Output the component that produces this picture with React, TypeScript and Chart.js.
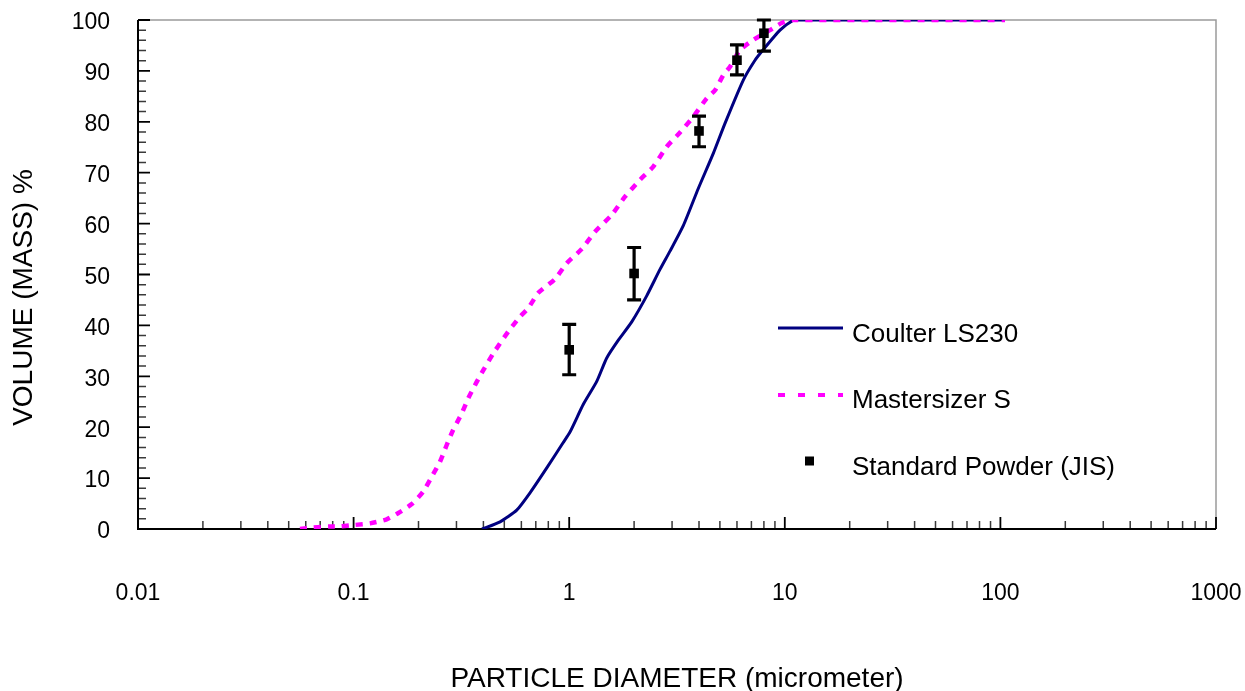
import React, { useEffect, useRef } from 'react';
import { Chart, registerables } from 'chart.js';

Chart.register(...registerables);

const FONT = '"Liberation Sans", Arial, Helvetica, sans-serif';

// ---- axis definitions ----
const X_MIN = 0.01;
const X_MAX = 1000;
const X_TICK_VALUES = [0.01, 0.1, 1, 10, 100, 1000];
const X_TICK_LABELS = ['0.01', '0.1', '1', '10', '100', '1000'];
const X_MINOR_MULTIPLIERS = [2, 3, 4, 5, 6, 7, 8, 9];
const Y_MIN = 0;
const Y_MAX = 100;
const Y_MAJOR_STEP = 10;
const Y_MINOR_STEP = 2;
const X_TITLE = 'PARTICLE DIAMETER (micrometer)';
const Y_TITLE = 'VOLUME (MASS) %';

// ---- series: Coulter LS230 ----
const COULTER_LABEL = 'Coulter LS230';
const COULTER_X = [0.394, 0.478, 0.571, 0.658, 0.787, 0.935, 1.01, 1.163, 1.342, 1.493, 1.69, 1.95, 2.288, 2.637, 2.935, 3.382, 3.97, 4.66, 5.28, 6.42, 7.275, 7.92, 9.5, 10.9, 11.5, 105];
const COULTER_Y = [0, 1.4, 3.7, 7.1, 12.0, 16.9, 19.1, 24.5, 29.0, 33.6, 37.1, 40.7, 45.8, 51.0, 54.6, 59.6, 66.9, 73.8, 79.7, 88.2, 92.1, 94.1, 98.0, 99.9, 100, 100];

// ---- series: Mastersizer S ----
const MASTER_LABEL = 'Mastersizer S';
const MASTER_X = [0.0564, 0.0648, 0.0769, 0.0865, 0.1015, 0.1192, 0.1424, 0.1607, 0.1861, 0.2099, 0.2335, 0.2516, 0.2703, 0.2891, 0.3173, 0.3404, 0.3724, 0.3996, 0.4446, 0.5219, 0.5912, 0.6459, 0.719, 0.8592, 0.9736, 1.143, 1.317, 1.574, 1.815, 2.13, 2.455, 2.833, 3.265, 3.764, 4.342, 4.747, 5.186, 5.569, 6.198, 7.144, 8.541, 9.674, 10.9, 105];
const MASTER_Y = [0, 0.3, 0.5, 0.5, 0.8, 1.1, 1.9, 3.1, 4.9, 7.3, 10.7, 13.2, 16.5, 19.4, 22.7, 25.7, 28.9, 31.2, 34.5, 38.8, 41.7, 43.4, 46.4, 49.1, 52.2, 55.0, 58.4, 61.7, 65.3, 68.6, 71.2, 75.1, 77.9, 81.0, 84.6, 86.2, 89.2, 90.8, 94.1, 96.1, 98.0, 99.4, 100, 100];

// ---- series: Standard Powder (JIS) with error bars ----
const JIS_LABEL = 'Standard Powder (JIS)';
const JIS_X = [1, 2, 4, 6, 8];
const JIS_Y = [35.2, 50.2, 78.2, 92.1, 97.4];
const JIS_LOW = [30.3, 45.0, 75.1, 89.2, 93.9];
const JIS_HIGH = [40.2, 55.3, 81.1, 95.1, 100];

const NAVY = '#000080';
const MAGENTA = '#FF00FF';

const zeroPadding = (s: any) => {
  s.paddingLeft = 0;
  s.paddingRight = 0;
  s.paddingTop = 0;
  s.paddingBottom = 0;
};

const framePlugin = {
  id: 'frameTicks',
  beforeDatasetsDraw(chart: any) {
    const { ctx, chartArea } = chart;
    const xs = chart.scales.x;
    const ys = chart.scales.y;
    const { left, right, top, bottom } = chartArea;
    ctx.save();
    // top & right border (grey)
    ctx.strokeStyle = '#9a9a9a';
    ctx.lineWidth = 1.5;
    ctx.beginPath();
    ctx.moveTo(left, top);
    ctx.lineTo(right, top);
    ctx.lineTo(right, bottom);
    ctx.stroke();
    // minor x ticks
    ctx.lineWidth = 1.5;
    ctx.strokeStyle = '#3a3a3a';
    ctx.beginPath();
    for (let d = 0; d < X_TICK_VALUES.length - 1; d++) {
      for (const m of X_MINOR_MULTIPLIERS) {
        const px = xs.getPixelForValue(X_TICK_VALUES[d] * m);
        ctx.moveTo(px, bottom);
        ctx.lineTo(px, bottom - 8);
      }
    }
    // minor y ticks
    for (let v = Y_MIN; v <= Y_MAX; v += Y_MINOR_STEP) {
      if (v % Y_MAJOR_STEP === 0) continue;
      const py = ys.getPixelForValue(v);
      ctx.moveTo(left, py);
      ctx.lineTo(left + 8, py);
    }
    ctx.stroke();
    // major ticks
    ctx.strokeStyle = '#000';
    ctx.lineWidth = 1.8;
    ctx.beginPath();
    for (const v of X_TICK_VALUES) {
      const px = xs.getPixelForValue(v);
      ctx.moveTo(px, bottom);
      ctx.lineTo(px, bottom - 12);
    }
    for (let v = Y_MIN; v <= Y_MAX; v += Y_MAJOR_STEP) {
      const py = ys.getPixelForValue(v);
      ctx.moveTo(left, py);
      ctx.lineTo(left + 12, py);
    }
    ctx.stroke();
    // left & bottom axis lines
    ctx.lineWidth = 2;
    ctx.beginPath();
    ctx.moveTo(left, top);
    ctx.lineTo(left, bottom);
    ctx.lineTo(right, bottom);
    ctx.stroke();
    ctx.restore();
  },
  afterDatasetsDraw(chart: any) {
    const { ctx } = chart;
    const xs = chart.scales.x;
    const ys = chart.scales.y;
    ctx.save();
    ctx.strokeStyle = '#000';
    ctx.lineWidth = 3.2;
    ctx.beginPath();
    JIS_X.forEach((xv, i) => {
      const px = xs.getPixelForValue(xv);
      const pLo = ys.getPixelForValue(JIS_LOW[i]);
      const pHi = ys.getPixelForValue(JIS_HIGH[i]);
      ctx.moveTo(px, pLo);
      ctx.lineTo(px, pHi);
      ctx.moveTo(px - 7, pLo);
      ctx.lineTo(px + 7, pLo);
      ctx.moveTo(px - 7, pHi);
      ctx.lineTo(px + 7, pHi);
    });
    ctx.stroke();
    ctx.restore();
  },
  afterDraw(chart: any) {
    const { ctx } = chart;
    ctx.save();
    // y axis title
    ctx.fillStyle = '#000';
    ctx.font = `28px ${FONT}`;
    ctx.textAlign = 'center';
    ctx.textBaseline = 'middle';
    ctx.translate(24, 297.5);
    ctx.rotate(-Math.PI / 2);
    ctx.fillText(Y_TITLE, 0, 0);
    ctx.restore();

    // legend
    ctx.save();
    const lx0 = 778;
    const lx1 = 843;
    const tx = 852;
    ctx.lineCap = 'butt';
    ctx.strokeStyle = NAVY;
    ctx.lineWidth = 3;
    ctx.beginPath();
    ctx.moveTo(lx0, 328);
    ctx.lineTo(lx1, 328);
    ctx.stroke();
    ctx.strokeStyle = MAGENTA;
    ctx.lineWidth = 4;
    ctx.setLineDash([7, 13]);
    ctx.beginPath();
    ctx.moveTo(lx0, 395);
    ctx.lineTo(lx1, 395);
    ctx.stroke();
    ctx.setLineDash([]);
    ctx.fillStyle = '#000';
    ctx.fillRect(805, 456.5, 9, 9);
    ctx.font = `26px ${FONT}`;
    ctx.textAlign = 'left';
    ctx.textBaseline = 'alphabetic';
    ctx.fillText(COULTER_LABEL, tx, 341.7);
    ctx.fillText(MASTER_LABEL, tx, 408.3);
    ctx.fillText(JIS_LABEL, tx, 475);
    ctx.restore();
  },
};

export default function App() {
  const canvasRef = useRef<HTMLCanvasElement | null>(null);

  useEffect(() => {
    const canvas = canvasRef.current;
    if (!canvas) return;
    const chart = new Chart(canvas, {
      type: 'scatter',
      data: {
        datasets: [
          {
            label: JIS_LABEL,
            data: JIS_X.map((x, i) => ({ x, y: JIS_Y[i] })),
            showLine: false,
            pointStyle: 'rect',
            pointRadius: 6.8,
            pointBackgroundColor: '#000',
            pointBorderColor: '#000',
            pointBorderWidth: 0,
            order: 0,
          },
          {
            label: MASTER_LABEL,
            data: MASTER_X.map((x, i) => ({ x, y: MASTER_Y[i] })),
            showLine: true,
            borderColor: MAGENTA,
            backgroundColor: MAGENTA,
            borderWidth: 4.5,
            borderDash: [7, 7],
            borderCapStyle: 'butt',
            pointRadius: 0,
            tension: 0.2,
            fill: false,
            order: 1,
          },
          {
            label: COULTER_LABEL,
            data: COULTER_X.map((x, i) => ({ x, y: COULTER_Y[i] })),
            showLine: true,
            borderColor: NAVY,
            backgroundColor: NAVY,
            borderWidth: 3,
            borderJoinStyle: 'round',
            pointRadius: 0,
            tension: 0.2,
            fill: false,
            order: 2,
          },
        ],
      } as any,
      options: {
        animation: false,
        responsive: false,
        maintainAspectRatio: false,
        layout: { padding: { left: 0, top: 20, right: 29, bottom: 0 } },
        plugins: {
          legend: { display: false },
          tooltip: { enabled: false },
          title: { display: false },
        },
        scales: {
          x: {
            type: 'logarithmic',
            min: X_MIN,
            max: X_MAX,
            afterBuildTicks: (s: any) => {
              s.ticks = X_TICK_VALUES.map((v) => ({ value: v, major: true }));
            },
            afterFit: (s: any) => {
              s.height = 162;
              zeroPadding(s);
            },
            grid: { display: false, drawTicks: false },
            border: { display: false },
            ticks: {
              autoSkip: false,
              maxRotation: 0,
              minRotation: 0,
              padding: 51,
              color: '#000',
              font: { family: FONT, size: 23 },
              callback: (_v: any, i: number) => X_TICK_LABELS[i] ?? '',
            },
            title: {
              display: true,
              text: X_TITLE,
              color: '#000',
              font: { family: FONT, size: 28 },
              padding: { top: 0, bottom: -5 },
            },
          },
          y: {
            type: 'linear',
            min: Y_MIN,
            max: Y_MAX,
            afterFit: (s: any) => {
              s.width = 138;
              zeroPadding(s);
            },
            grid: { display: false, drawTicks: false },
            border: { display: false },
            ticks: {
              stepSize: Y_MAJOR_STEP,
              padding: 28,
              labelOffset: 3,
              color: '#000',
              font: { family: FONT, size: 23 },
            },
          },
        },
      } as any,
      plugins: [framePlugin],
    });
    return () => chart.destroy();
  }, []);

  return (
    <div style={{ position: 'fixed', left: 0, top: 0, width: 1245, height: 691, background: '#fff', overflow: 'hidden' }}>
      <canvas ref={canvasRef} width={1245} height={691} style={{ display: 'block' }} />
    </div>
  );
}
